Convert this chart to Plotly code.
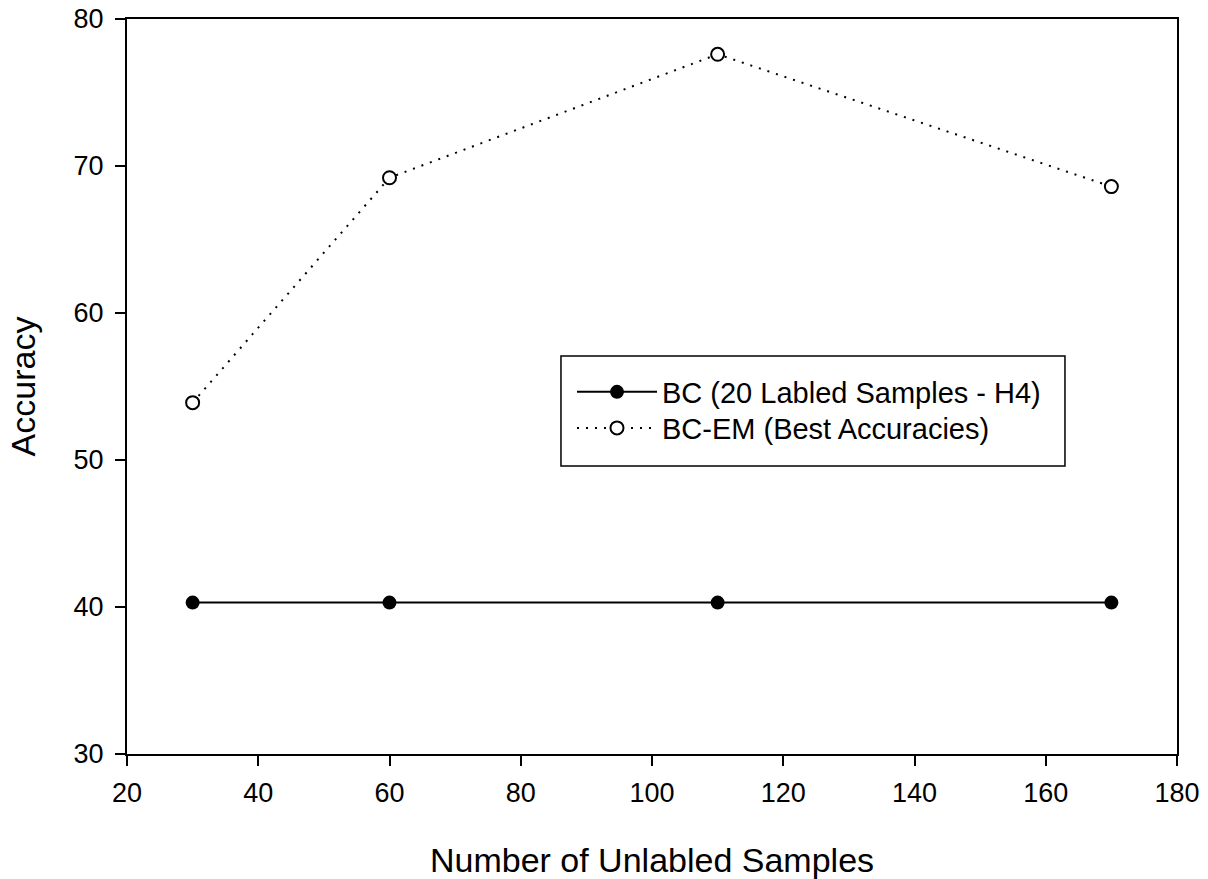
import plotly.graph_objects as go

x_samples = [30, 60, 110, 170]
bc_acc = [40.3, 40.3, 40.3, 40.3]
bcem_acc = [53.9, 69.2, 77.6, 68.6]
x_ticks = [20, 40, 60, 80, 100, 120, 140, 160, 180]
y_ticks = [30, 40, 50, 60, 70, 80]

fig = go.Figure()
fig.add_trace(go.Scatter(
    x=x_samples, y=bc_acc, mode="lines+markers",
    name="BC (20 Labled Samples - H4)",
    line=dict(color="black", width=2),
    marker=dict(symbol="circle", size=14, color="black"),
    legend="legend",
))
fig.add_trace(go.Scatter(
    x=x_samples, y=bcem_acc, mode="lines+markers",
    name="BC-EM (Best Accuracies)",
    line=dict(color="black", width=2, dash="2px,7px"),
    marker=dict(symbol="circle", size=13, color="white", line=dict(width=2, color="black")),
    legend="legend2",
))

font_family = "Liberation Sans, Arial, sans-serif"
leg_common = dict(
    xanchor="left", yanchor="middle",
    borderwidth=0, bgcolor="rgba(0,0,0,0)",
    font=dict(size=29, family=font_family),
    itemwidth=80,
)
fig.update_layout(
    width=1208, height=879,
    margin=dict(l=127, r=31, t=19, b=125, autoexpand=False),
    paper_bgcolor="white", plot_bgcolor="white",
    font=dict(family=font_family, color="black", size=27),
    showlegend=True,
    legend=dict(x=0.4238, y=0.4925, **leg_common),
    legend2=dict(x=0.4238, y=0.4435, **leg_common),
    shapes=[dict(
        type="rect", xref="paper", yref="paper",
        x0=0.4133, x1=0.8933, y0=0.3918, y1=0.5415,
        line=dict(color="black", width=1.5), fillcolor="rgba(0,0,0,0)",
        layer="above",
    )],
    xaxis=dict(
        range=[20, 180], tickvals=x_ticks, ticks="outside", ticklen=10,
        tickwidth=1.5, tickcolor="black", showline=True, linecolor="black",
        linewidth=2, mirror=True, showgrid=False, zeroline=False,
        automargin=False, ticklabelstandoff=4,
        tickfont=dict(size=27),
        title=dict(text="Number of Unlabled Samples", font=dict(size=34), standoff=43),
    ),
    yaxis=dict(
        range=[30, 80], tickvals=y_ticks, ticks="outside", ticklen=10,
        tickwidth=1.5, tickcolor="black", showline=True, linecolor="black",
        linewidth=2, mirror=True, showgrid=False, zeroline=False,
        automargin=False, ticklabelstandoff=6,
        tickfont=dict(size=27),
        title=dict(text="Accuracy", font=dict(size=34), standoff=28),
    ),
)

fig.write_html("out.html")
